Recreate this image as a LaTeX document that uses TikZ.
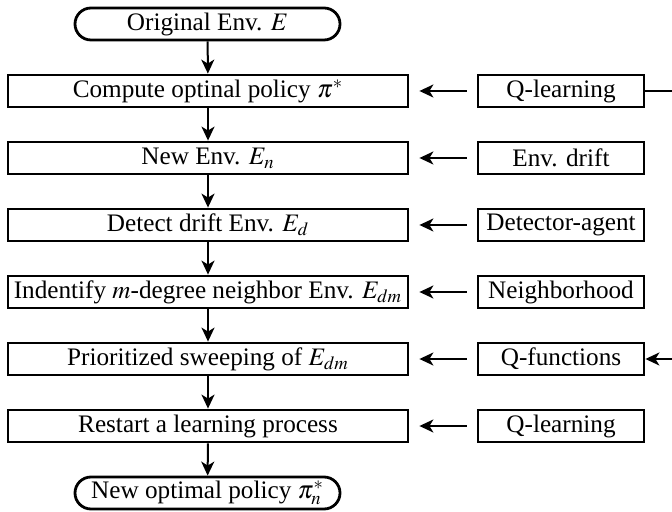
\documentclass[tikz,border=0pt,12pt]{standalone}
\usepackage{mathptmx}
\usepackage{fontspec}
\setmainfont{Liberation Serif}
\usetikzlibrary{arrows.meta,shapes.misc}

\begin{document}
\begin{tikzpicture}[x=0.5pt,y=-0.5pt,font=\fontsize{12.6}{15}\selectfont,
  stepbox/.style={draw,line width=1.4pt,minimum width=200pt,minimum height=16pt,inner sep=0pt},
  srcbox/.style={draw,line width=1.4pt,minimum width=83pt,minimum height=16pt,inner sep=0pt},
  term/.style={draw,rounded rectangle,line width=1.4pt,minimum width=132.5pt,minimum height=16pt,inner sep=0pt},
  arr/.style={-{Stealth[length=7pt,width=6.5pt,inset=2pt]},line width=1pt}]
\useasboundingbox (0,0) rectangle (672,512);
\node[term] (start) at (207.5,24) {Original Env. $E$};
  \foreach \txt/\src [count=\i] in {{Compute optinal policy $\pi^*$}/Q-learning,
      {New Env. $E_n$}/Env. drift,
      {Detect drift Env. $E_d$}/Detector-agent,
      {Indentify $m$-degree neighbor Env. $E_{dm}$}/Neighborhood,
      {Prioritized sweeping of $E_{dm}$}/Q-functions,
      {Restart a learning process}/Q-learning}
  {  \node [stepbox] (s\i) at (208,24+67*\i) {\txt};
     \node [srcbox] (q\i) at (561,24+67*\i) {\src};
     \draw [arr,shorten <=5pt,shorten >=5pt] (q\i) -- (s\i);}
\node[term] (stop) at (207.5,493) {New optimal policy $\pi^*_n$};
  \foreach \a/\b in {start/s1,s1/s2,s2/s3,s3/s4,s4/s5,s5/s6,s6/stop}
  {  \draw [arr] (\a) -- (\b);}
% feedback leaves the page on the right
\draw [arr] (q1.east) -- ++(50,0) |- (q5.east);
\end{tikzpicture}
\end{document}
